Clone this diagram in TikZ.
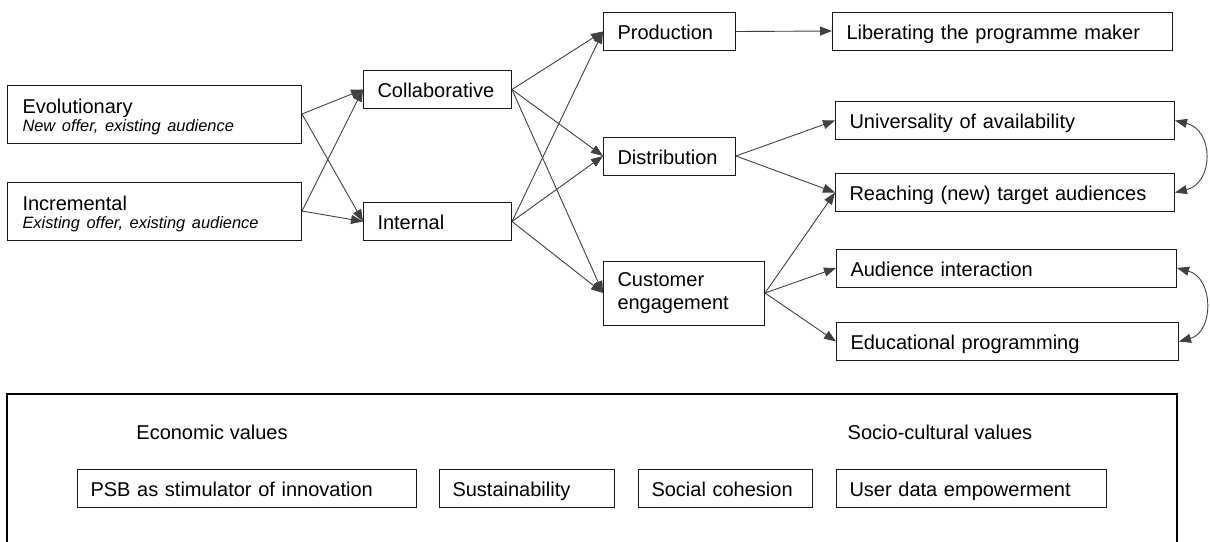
\documentclass[tikz,border=0pt]{standalone}
\usepackage{fontspec}
\setmainfont{Liberation Sans}
\usetikzlibrary{arrows.meta}
\newcommand{\subline}[1]{{\fontsize{16.4}{18}\selectfont\itshape #1}}
\begin{document}
\begin{tikzpicture}[x=1pt,y=-1pt,
  every node/.style={font=\fontsize{20}{23}\selectfont,text=black},
  frame/.style={draw=black!90,line width=1pt,anchor=west,align=left,inner xsep=14pt},
  box/.style={frame,text height=17pt,text depth=1pt,minimum height=38pt},
  tallbox/.style={frame,inner ysep=3pt},
  valbox/.style={box,inner xsep=13pt},
  link/.style={draw=black!75,line width=0.9pt,-{Triangle[length=12pt,width=9pt]}},
  twin/.style={draw=black!75,line width=0.9pt,{Triangle[length=12pt,width=9pt]}-{Triangle[length=12pt,width=9pt]}}]
\useasboundingbox (0,0) rectangle (1210,541);
\node[tallbox,text width=264pt,minimum height=58pt,inner xsep=15pt,font=\fontsize{20}{18}\selectfont] (evo) at (7,114) {\rule{0pt}{20pt}Evolutionary\\\subline{New offer, existing audience}};
\node[tallbox,text width=264pt,minimum height=58pt,inner xsep=15pt,font=\fontsize{20}{18}\selectfont] (inc) at (7,211) {\rule{0pt}{20pt}Incremental\\\subline{Existing offer, existing audience}};
\node[box,text width=120pt] (collab) at (363,89.5) {Collaborative};
\node[box,text width=120pt] (intern) at (363,221.5) {Internal};
\node[box,text width=104pt] (prod) at (603,31.5) {Production};
\node[box,text width=104pt] (dist) at (603,156) {Distribution};
\node[tallbox,text width=133pt,minimum height=64pt] (cust) at (603,293) {Customer\\engagement};
\node[box,text width=312pt] (lib) at (832,31) {Liberating the programme maker};
\node[box,text width=311pt] (univ) at (835,120.5) {Universality of availability};
\node[box,text width=311pt] (reach) at (835,192.5) {Reaching (new) target audiences};
\node[box,text width=312pt] (aud) at (836,268) {Audience interaction};
\node[box,text width=314pt] (edu) at (836,341.5) {Educational programming};
\foreach \a/\b in {evo/collab,evo/intern,inc/collab,inc/intern,
    collab/prod,collab/dist,collab/cust,intern/prod,intern/dist,intern/cust,
    prod/lib,dist/univ,dist/reach,cust/reach,cust/aud,cust/edu}
  \draw[link] (\a.east) -- (\b.west);
\draw[twin] (univ.east) .. controls (1214,130) and (1214,183) .. (reach.east);
\draw[twin] (aud.east) .. controls (1214,278) and (1214,332) .. (edu.east);
\draw[line width=2pt] (7,548) |- (1177,394) -- (1177,548);
\node (econ) at (212,432) {Economic values};
\node (socio) at (940,432) {Socio-cultural values};
\node[valbox,text width=313pt] (psb) at (77,488) {PSB as stimulator of innovation};
\node[valbox,text width=149pt] (sust) at (439,488) {Sustainability};
\node[valbox,text width=148pt] (cohes) at (638,488) {Social cohesion};
\node[valbox,text width=244pt] (user) at (836,488) {User data empowerment};
\end{tikzpicture}
\end{document}
